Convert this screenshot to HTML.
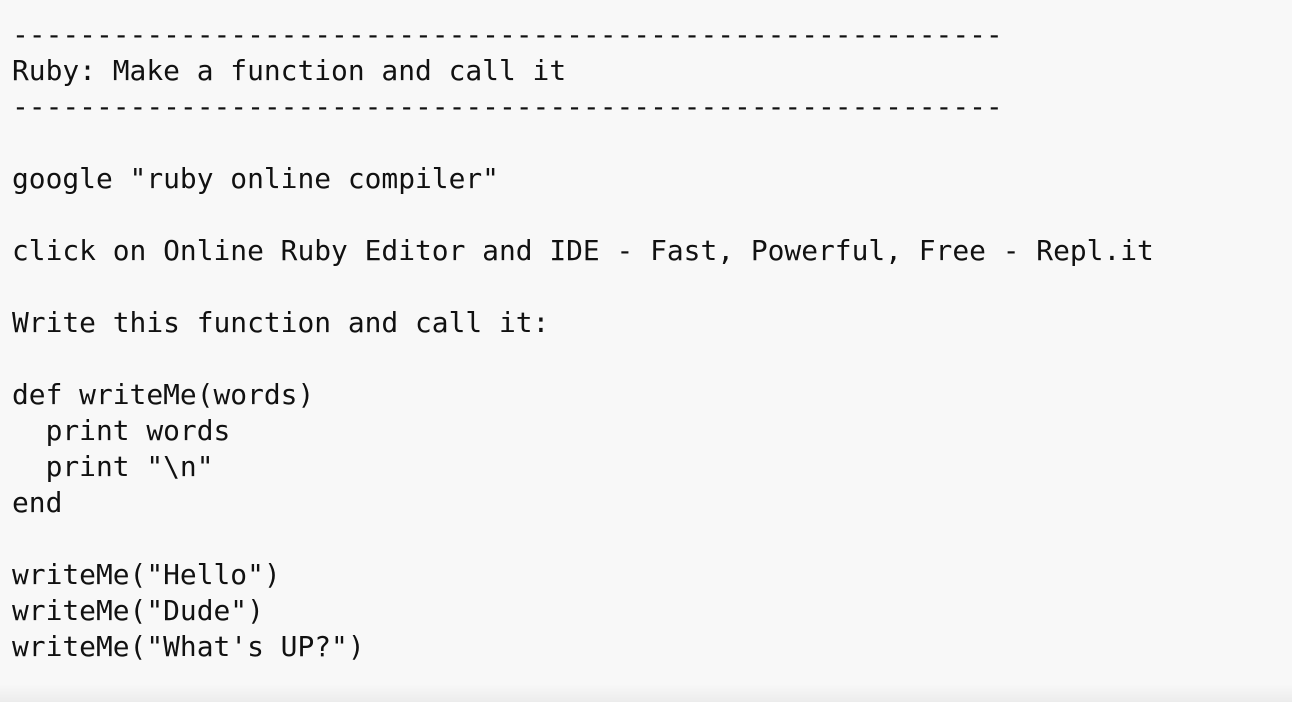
<!DOCTYPE html>
<html><head><meta charset="utf-8"><style>
html,body{margin:0;padding:0;width:1292px;height:702px;overflow:hidden;background:#f8f8f8;}
pre{margin:0;padding:17px 0 0 12px;font-family:"DejaVu Sans Mono","Liberation Mono",monospace;font-size:27.9px;line-height:36px;color:#111;}
.bot{position:absolute;left:0;top:684px;width:1292px;height:18px;background:linear-gradient(#f8f8f8,#ececec);}
</style></head><body>
<pre>-----------------------------------------------------------
Ruby: Make a function and call it
-----------------------------------------------------------

google "ruby online compiler"

click on Online Ruby Editor and IDE - Fast, Powerful, Free - Repl.it

Write this function and call it:

def writeMe(words)
  print words
  print "\n"
end

writeMe("Hello")
writeMe("Dude")
writeMe("What's UP?")</pre>
<div class="bot"></div>
</body></html>
